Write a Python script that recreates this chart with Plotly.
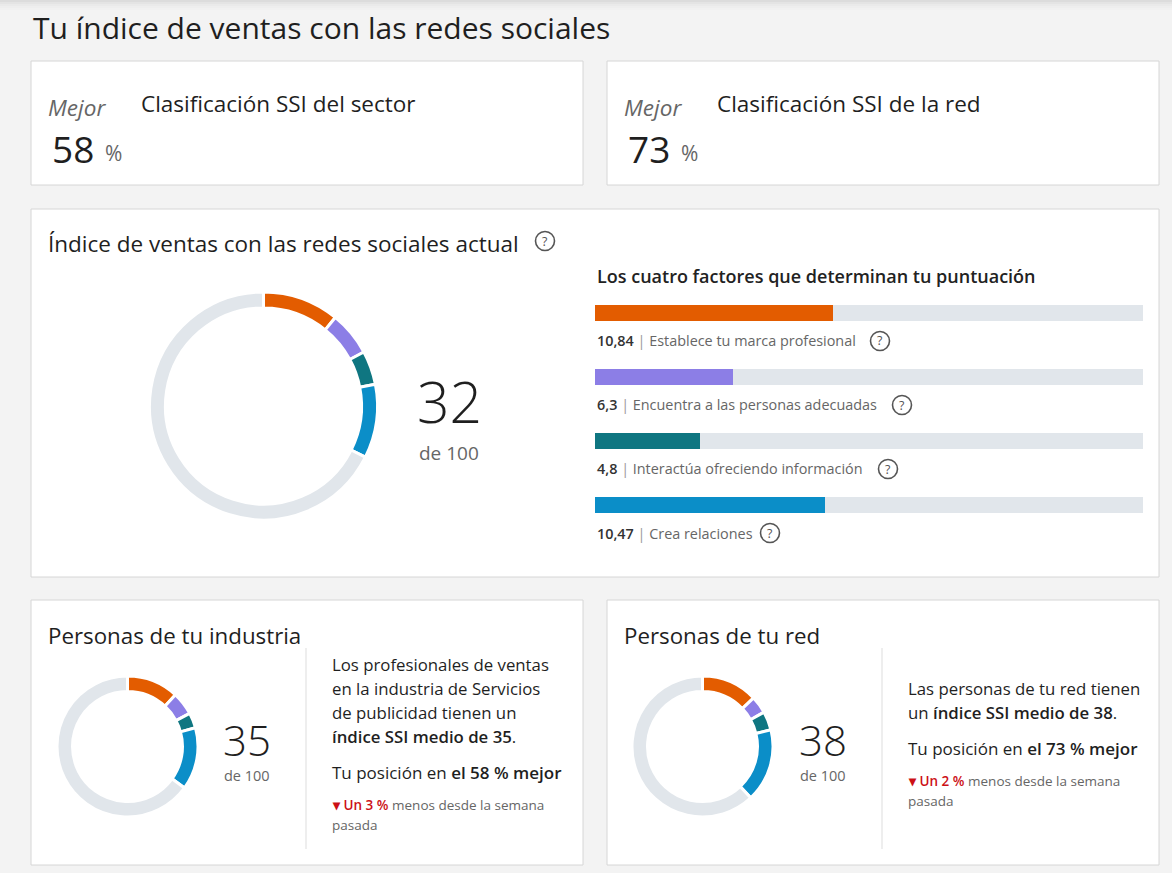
import plotly.graph_objects as go

W, H = 1172, 873

# ---------------- data ----------------
factor_names = ["Establece tu marca profesional", "Encuentra a las personas adecuadas",
                "Interactúa ofreciendo información", "Crea relaciones"]
factor_values = [10.84, 6.3, 4.8, 10.47]
factor_labels = ["10,84", "6,3", "4,8", "10,47"]
factor_max = 25
factor_colors = ["#e35c00", "#8c7ee6", "#0f7681", "#0b8ec8"]
track_color = "#e1e6eb"

total_score = 32
industry_values = [11.9, 5.3, 3.5, 14.3]
industry_avg = 35
network_values = [12.9, 4.0, 4.3, 16.8]
network_avg = 38
sector_rank = 58
network_rank = 73
industry_change = 3
network_change = 2

FONT = "Open Sans"
DARK = "#1f1f1f"
GREY = "#666666"
RED = "#cc1016"
SB = "<span style='font-weight:600'>{}</span>"


def px(x):
    return x / W


def py(y):
    return 1 - y / H


fig = go.Figure()
shapes = []
ann = []


def card(x0, y0, x1, y1):
    shapes.append(dict(type="rect", xref="paper", yref="paper", x0=px(x0), x1=px(x1),
                       y0=py(y1), y1=py(y0), fillcolor="white",
                       line=dict(color="#d6d6d6", width=1), layer="below"))


def text(x, y, s, size, color=DARK, xanchor="left", weight=None, style=None, family=FONT):
    f = dict(family=family, size=size, color=color)
    if weight:
        f["weight"] = weight
    if style:
        f["style"] = style
    ann.append(dict(xref="paper", yref="paper", x=px(x), y=py(y), text=s, showarrow=False,
                    xanchor=xanchor, yanchor="middle", font=f))


def help_icon(cx, cy, r=9.5):
    shapes.append(dict(type="circle", xref="paper", yref="paper", x0=px(cx - r), x1=px(cx + r),
                       y0=py(cy + r), y1=py(cy - r), line=dict(color="#555555", width=1.6),
                       layer="above"))
    text(cx, cy, "?", 12.5, color="#555555", xanchor="center")


def donut(cx, cy, r, vals, hole):
    rest = 100 - sum(vals)
    fig.add_trace(go.Pie(values=list(vals) + [rest], sort=False, direction="clockwise", rotation=0,
                         hole=hole, textinfo="none", hoverinfo="skip", showlegend=False,
                         marker=dict(colors=factor_colors + [track_color],
                                     line=dict(color="white", width=3)),
                         domain=dict(x=[px(cx - r), px(cx + r)], y=[py(cy + r), py(cy - r)])))


# top shadow
for i, c in enumerate(["#dcdcdc", "#e4e4e4", "#eaeaea", "#eeeeee", "#f1f1f1"]):
    shapes.append(dict(type="rect", xref="paper", yref="paper", x0=0, x1=1, y0=py(2 * i + 2),
                       y1=py(2 * i), fillcolor=c, line=dict(width=0), layer="below"))

# page title
text(31, 27, "Tu índice de ventas con las redes sociales", 30)

# top cards
card(31, 61, 583, 185)
card(607, 61, 1159, 185)
for x0, rank, label in [(31, sector_rank, "Clasificación SSI del sector"),
                        (607, network_rank, "Clasificación SSI de la red")]:
    text(x0 + 15, 107, "Mejor", 22.5, color=GREY, style="italic")
    text(x0 + 19, 148, str(rank), 37, color=DARK)
    text(x0 + 72, 153, "%", 21, color=GREY)
    text(x0 + 108, 103, label, 22.5)

# main card
card(31, 209, 1159, 577)
text(46, 243, "Índice de ventas con las redes sociales actual", 22.5)
help_icon(545, 241)
donut(263.5, 406, 114, factor_values, 0.86)
text(449, 401, str(total_score), 57, color=DARK, xanchor="center", weight=300)
text(449, 453, "de 100", 19, color=GREY, xanchor="center")

text(595, 276, "Los cuatro factores que determinan tu puntuación", 18, color="#222222",
     weight=600)

ys = list(range(len(factor_values)))
fig.add_trace(go.Bar(x=[factor_max] * len(ys), y=ys, orientation="h", width=0.25,
                     marker=dict(color=track_color, line=dict(width=0)), hoverinfo="skip",
                     showlegend=False, xaxis="x", yaxis="y"))
fig.add_trace(go.Bar(x=factor_values, y=ys, orientation="h", width=0.25,
                     marker=dict(color=factor_colors, line=dict(width=0)), hoverinfo="skip",
                     showlegend=False, xaxis="x", yaxis="y"))
for i, (lab, name) in enumerate(zip(factor_labels, factor_names)):
    ann.append(dict(xref="x", yref="y", x=0, y=i, yshift=-28, xanchor="left", yanchor="middle",
                    showarrow=False,
                    text=f"<span style='color:#333333;font-weight:600'>{lab}</span> "
                         f"<span style='color:#999999'>|</span> {name}",
                    font=dict(family=FONT, size=14.4, color=GREY)))
for cx, cy in [(880, 341), (902, 405), (888, 469), (770, 533)]:
    help_icon(cx, cy)

# bottom cards
card(31, 600, 583, 865)
card(607, 600, 1159, 865)
text(46, 635, "Personas de tu industria", 22.3)
text(622, 635, "Personas de tu red", 22.3)

donut(127.5, 746.5, 70.5, industry_values, 0.78)
donut(702.5, 746.5, 70.5, network_values, 0.78)
text(247, 739, str(industry_avg), 42, color=DARK, xanchor="center", weight=300)
text(247, 775, "de 100", 14.5, color=GREY, xanchor="center")
text(823, 739, str(network_avg), 42, color=DARK, xanchor="center", weight=300)
text(823, 775, "de 100", 14.5, color=GREY, xanchor="center")

# dividers
for x in (306, 882):
    shapes.append(dict(type="line", xref="paper", yref="paper", x0=px(x), x1=px(x),
                       y0=py(849), y1=py(648), line=dict(color="#dddddd", width=1)))

# industry text
for y, s in [(664, "Los profesionales de ventas"), (688, "en la industria de Servicios"),
             (712, "de publicidad tienen un"),
             (736, SB.format(f"índice SSI medio de {industry_avg}") + ".")]:
    text(330, y, s, 16.8)
text(330, 772, "Tu posición en " + SB.format(f"el {sector_rank} % mejor"), 17)
text(330, 805, f"<span style='color:{RED};font-weight:600'>▾ Un {industry_change} %</span>"
               " menos desde la semana", 13.5, color=GREY)
text(330, 825, "pasada", 13.5, color=GREY)

# network text
text(906, 688, "Las personas de tu red tienen", 16.8)
text(906, 712, "un " + SB.format(f"índice SSI medio de {network_avg}") + ".", 16.8)
text(906, 748, "Tu posición en " + SB.format(f"el {network_rank} % mejor"), 17)
text(906, 781, f"<span style='color:{RED};font-weight:600'>▾ Un {network_change} %</span>"
               " menos desde la semana", 13.5, color=GREY)
text(906, 801, "pasada", 13.5, color=GREY)

fig.update_layout(
    width=W, height=H, margin=dict(l=0, r=0, t=0, b=0),
    paper_bgcolor="#f3f3f3", plot_bgcolor="rgba(0,0,0,0)",
    barmode="overlay", bargap=0,
    xaxis=dict(domain=[px(595), px(1143)], range=[0, factor_max], visible=False, fixedrange=True),
    yaxis=dict(domain=[py(537), py(281)], range=[3.5, -0.5], visible=False, fixedrange=True),
    shapes=shapes, annotations=ann, showlegend=False,
)
fig.write_html("out.html", config={"displayModeBar": False},
               post_script="document.body.style.margin='0';"
                           "document.body.style.overflow='hidden';"
                           "document.body.style.background='#f3f3f3';")
